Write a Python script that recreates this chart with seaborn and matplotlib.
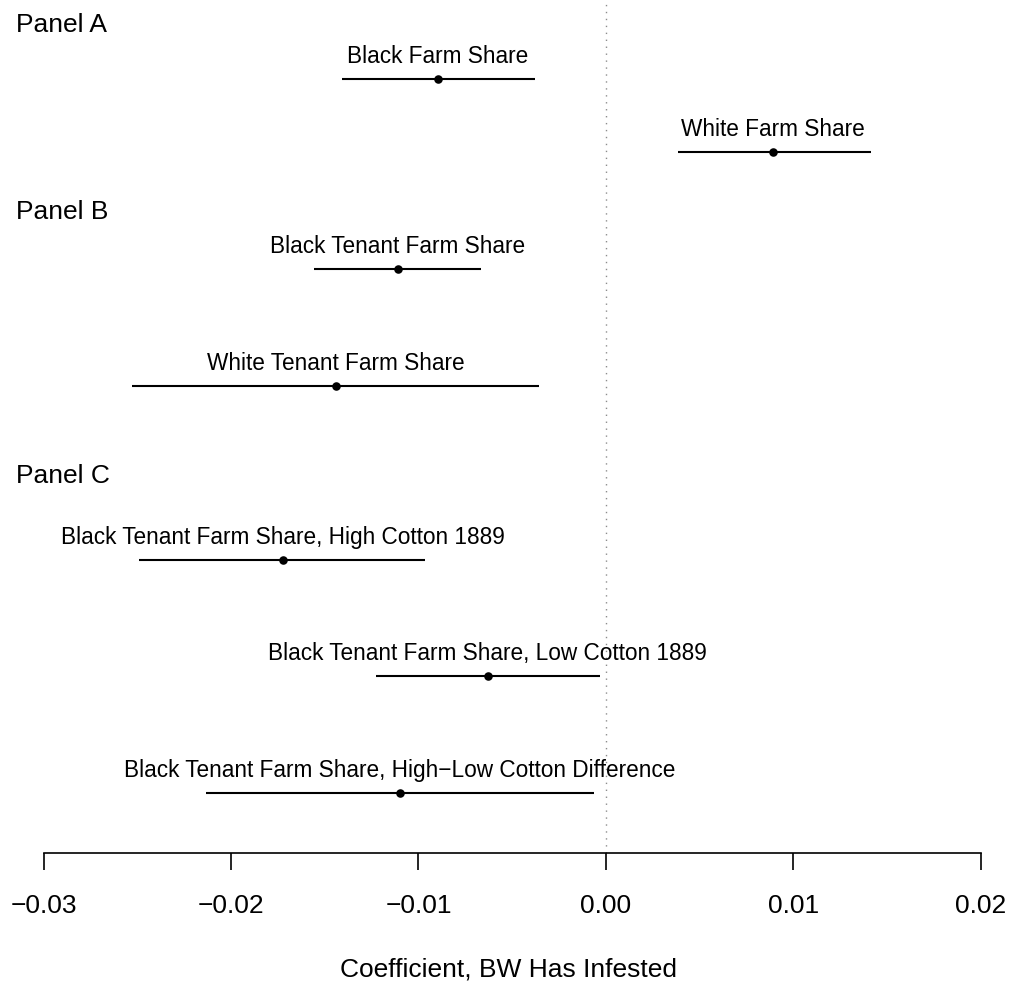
import matplotlib
matplotlib.use("Agg")
import matplotlib.pyplot as plt
import matplotlib.transforms as mtransforms
import seaborn as sns
import pandas as pd

# ---- data ----
labels = [
    "Black Farm Share",
    "White Farm Share",
    "Black Tenant Farm Share",
    "White Tenant Farm Share",
    "Black Tenant Farm Share, High Cotton 1889",
    "Black Tenant Farm Share, Low Cotton 1889",
    "Black Tenant Farm Share, High\u2212Low Cotton Difference",
]
coef = [-0.00896, 0.00890, -0.01110, -0.01440, -0.01725, -0.00630, -0.01098]
ci_low = [-0.01407, 0.00384, -0.01555, -0.02527, -0.02489, -0.01226, -0.02132]
ci_high = [-0.00378, 0.01413, -0.00666, -0.00357, -0.00965, -0.00032, -0.00064]
row_pos = [0.68, 1.305, 2.31, 3.315, 4.805, 5.80, 6.805]

panel_names = ["Panel A", "Panel B", "Panel C"]
panel_pos = [0.275, 1.88, 4.146]

x_ticks = [-0.03, -0.02, -0.01, 0.00, 0.01, 0.02]
x_tick_labels = ["\u22120.03", "\u22120.02", "\u22120.01", "0.00", "0.01", "0.02"]
x_label = "Coefficient, BW Has Infested"

df = pd.DataFrame({"label": labels, "coef": coef, "lo": ci_low, "hi": ci_high, "row": row_pos})

# ---- style ----
sns.set_theme(style="white")
plt.rcParams["font.family"] = ["Liberation Sans", "DejaVu Sans"]
plt.rcParams["text.color"] = "black"
plt.rcParams["xtick.color"] = "black"
plt.rcParams["axes.labelcolor"] = "black"

W, H = 1016, 984
fig = plt.figure(figsize=(W / 100, H / 100), dpi=100)
ax = fig.add_axes([0, 131 / H, 1, 853 / H])

px_per_unit = 18740.0
xmin = -0.03 - 43.7 / px_per_unit
xmax = xmin + W / px_per_unit
ax.set_xlim(xmin, xmax)
ax.set_ylim(853 / 116.5, 0)

# reference line at zero
ax.axvline(0, color="#8c8c8c", lw=1.0, ls=(0, (1, 4)), zorder=1)

# confidence intervals
ax.hlines(df["row"], df["lo"], df["hi"], color="black", lw=1.5, zorder=2)
# point estimates
sns.scatterplot(data=df, x="coef", y="row", ax=ax, color="black", s=38,
                edgecolor="black", linewidth=0, zorder=3, legend=False)

for _, r in df.iterrows():
    ax.annotate(r["label"], (r["coef"], r["row"]), xytext=(0, 11.5),
                textcoords="offset points", ha="center", va="baseline",
                fontsize=16.3, color="black")

trans = mtransforms.blended_transform_factory(ax.transAxes, ax.transData)
for name, p in zip(panel_names, panel_pos):
    ax.text(16 / W, p, name, transform=trans, ha="left", va="baseline",
            fontsize=19, color="black")

# axes styling
for s in ["left", "right", "top"]:
    ax.spines[s].set_visible(False)
ax.spines["bottom"].set_bounds(-0.03, 0.02)
ax.spines["bottom"].set_linewidth(1.2)
ax.spines["bottom"].set_color("black")
ax.set_yticks([])
ax.set_xticks(x_ticks)
ax.set_xticklabels(x_tick_labels, fontsize=19, color="black")
ax.tick_params(axis="x", direction="out", length=12.5, width=1.2, color="black",
               labelcolor="black", pad=17, bottom=True)
ax.set_xlabel("")
ax.set_ylabel("")

fig.text(0.5, 1 - 977 / H, x_label, ha="center", va="baseline", fontsize=19,
         color="black")

fig.savefig("out.png", dpi=100, facecolor="white")
